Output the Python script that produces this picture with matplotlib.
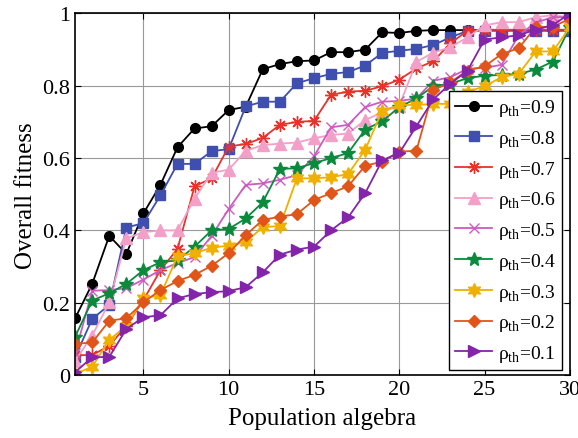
import numpy as np
import matplotlib.pyplot as plt

plt.rcParams['font.family'] = ['Liberation Serif', 'DejaVu Serif']
plt.rcParams['mathtext.fontset'] = 'custom'
plt.rcParams['mathtext.rm'] = 'Liberation Serif'

generations = np.arange(1, 31)

rho_09 = [0.157, 0.252, 0.385, 0.335, 0.447, 0.526, 0.63, 0.682, 0.688, 0.733,
          0.742, 0.846, 0.86, 0.868, 0.87, 0.893, 0.893, 0.9, 0.948, 0.946,
          0.952, 0.954, 0.954, 0.954, 0.954, 0.954, 0.954, 0.954, 0.954, 0.954]
rho_08 = [0.05, 0.155, 0.194, 0.408, 0.42, 0.497, 0.584, 0.584, 0.619, 0.625,
          0.743, 0.756, 0.756, 0.807, 0.821, 0.833, 0.838, 0.856, 0.891, 0.897,
          0.902, 0.913, 0.934, 0.952, 0.952, 0.952, 0.952, 0.952, 0.952, 0.952]
rho_07 = [0.055, 0.055, 0.081, 0.136, 0.207, 0.29, 0.349, 0.522, 0.544, 0.632,
          0.639, 0.656, 0.692, 0.70, 0.703, 0.775, 0.784, 0.786, 0.799, 0.817,
          0.848, 0.868, 0.918, 0.952, 0.955, 0.955, 0.955, 0.955, 0.955, 0.955]
rho_06 = [0.04, 0.109, 0.201, 0.378, 0.395, 0.40, 0.40, 0.488, 0.559, 0.568,
          0.62, 0.636, 0.64, 0.643, 0.655, 0.664, 0.668, 0.705, 0.727, 0.745,
          0.866, 0.892, 0.907, 0.934, 0.967, 0.976, 0.976, 0.99, 0.995, 0.99]
rho_05 = [0.06, 0.233, 0.235, 0.24, 0.264, 0.29, 0.31, 0.326, 0.385, 0.459,
          0.526, 0.53, 0.54, 0.553, 0.605, 0.685, 0.692, 0.741, 0.756, 0.758,
          0.765, 0.814, 0.824, 0.847, 0.85, 0.858, 0.94, 0.975, 0.99, 0.99]
rho_04 = [0.106, 0.206, 0.226, 0.252, 0.29, 0.312, 0.317, 0.355, 0.40, 0.404,
          0.433, 0.478, 0.57, 0.572, 0.586, 0.60, 0.614, 0.679, 0.702, 0.741,
          0.765, 0.799, 0.806, 0.821, 0.828, 0.83, 0.833, 0.845, 0.867, 0.962]
rho_03 = [0.003, 0.023, 0.097, 0.136, 0.212, 0.221, 0.329, 0.337, 0.352, 0.358,
          0.368, 0.409, 0.412, 0.544, 0.544, 0.547, 0.556, 0.623, 0.731, 0.747,
          0.747, 0.75, 0.75, 0.783, 0.799, 0.824, 0.833, 0.895, 0.895, 0.962]
rho_02 = [0.086, 0.09, 0.15, 0.157, 0.201, 0.235, 0.26, 0.277, 0.302, 0.337,
          0.387, 0.429, 0.438, 0.445, 0.484, 0.503, 0.522, 0.579, 0.59, 0.618,
          0.62, 0.788, 0.81, 0.842, 0.854, 0.888, 0.904, 0.963, 0.963, 0.986]
rho_01 = [0.008, 0.049, 0.05, 0.127, 0.16, 0.165, 0.212, 0.224, 0.229, 0.232,
          0.243, 0.284, 0.333, 0.347, 0.355, 0.40, 0.436, 0.503, 0.594, 0.614,
          0.688, 0.763, 0.806, 0.842, 0.928, 0.934, 0.94, 0.955, 0.968, 1.0]

series = [rho_09, rho_08, rho_07, rho_06, rho_05, rho_04, rho_03, rho_02, rho_01]
labels = ['0.9', '0.8', '0.7', '0.6', '0.5', '0.4', '0.3', '0.2', '0.1']
colors = ['black', '#3f4fb0', '#e8322a', '#f2a0c8', '#cc5cc0',
          '#0a8a3c', '#f0b000', '#e0561a', '#8424aa']
markers = ['o', 's', (8, 2, 0), '^', 'x', '*', (6, 1, 0), 'D', '>']
sizes = [7, 6.5, 9, 8, 7, 10, 10, 6.5, 8]

fig = plt.figure(figsize=(5.78, 4.39), dpi=100)
ax = fig.add_axes([0.13, 0.1435, 0.856, 0.8235])

for ys, lab, c, m, s in zip(series, labels, colors, markers, sizes):
    ax.plot(generations, ys, color=c, marker=m, markersize=s, linewidth=1.3,
            markeredgecolor=c, markerfacecolor=c,
            label=r'ρ$_{\mathrm{th}}$=' + lab)

ax.set_xlim(1, 30)
ax.set_ylim(0, 1)
ax.set_xticks([5, 10, 15, 20, 25, 30])
ax.set_yticks([0, 0.2, 0.4, 0.6, 0.8, 1])
ax.set_yticklabels(['0', '0.2', '0.4', '0.6', '0.8', '1'])
ax.grid(True, color='#999999', linewidth=0.8)
ax.tick_params(direction='in', top=True, right=True, labelsize=16, length=4)
for sp in ax.spines.values():
    sp.set_linewidth(1.2)
ax.set_xlabel('Population algebra', fontsize=18, labelpad=6)
ax.set_ylabel('Overall fitness', fontsize=18, labelpad=4)

leg = ax.legend(loc='lower right', fontsize=14, fancybox=False, framealpha=1,
                edgecolor='black', handlelength=1.9, handletextpad=0.3,
                labelspacing=0.5, borderpad=0.3, borderaxespad=0,
                bbox_to_anchor=(0.984, 0.014))
leg.get_frame().set_linewidth(1.0)

fig.savefig('out.png', dpi=100)
